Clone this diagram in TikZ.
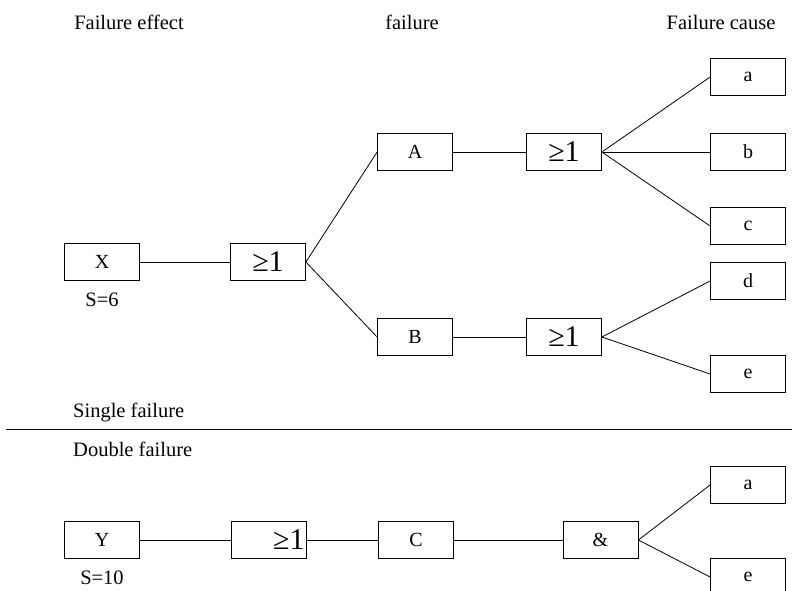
\documentclass[tikz,border=0pt]{standalone}
\usepackage{fontspec}
\setmainfont{Liberation Serif}
\usepackage{tikz}
\usetikzlibrary{positioning}
\tikzstyle{block}=[rectangle, draw=black, line width=0.8pt, minimum width=75pt, minimum height=37pt,
inner sep=0pt, font=\fontsize{20}{22}\selectfont]
\tikzstyle{gate}=[block, font=\fontsize{30}{32}\selectfont]
\tikzstyle{caption}=[anchor=base, inner sep=0pt, font=\fontsize{20.5}{23}\selectfont]
\tikzstyle{link}=[line width=0.8pt]

\begin{document}
\begin{tikzpicture}[x=1pt, y=-1pt]
    \clip (0,0) rectangle (792,590);
    \useasboundingbox (0,0) rectangle (792,590);
    % column headings
    \node (h1)[caption] at (129,29) {Failure effect};
    \node (h2)[caption] at (412,29) {failure};
    \node (h3)[caption] at (721,29) {Failure cause};

    % single failure
    \node (X)[block] at (102,262) {X};
    \node (sx)[caption] at (102,306) {S=6};
    \node (g1)[gate] at (268,262) {≥1};
    \node (A)[block] at (415,152) {A};
    \node (B)[block] at (415,337) {B};
    \node (gA)[gate] at (564,152) {≥1};
    \node (gB)[gate] at (564,337) {≥1};
    \node (a)[block] at (748,77) {a};
    \node (b)[block] at (748,152) {b};
    \node (c)[block] at (748,226) {c};
    \node (d)[block] at (748,281) {d};
    \node (e)[block] at (748,374) {e};

    \draw [link] (X) -- (g1);
    \draw [link] (g1.east) -- (A.west);
    \draw [link] (g1.east) -- (B.west);
    \draw [link] (A) -- (gA);
    \draw [link] (B) -- (gB);
    \draw [link] (gA.east) -- (a.west);
    \draw [link] (gA.east) -- (b.west);
    \draw [link] (gA.east) -- (c.west);
    \draw [link] (gB.east) -- (d.west);
    \draw [link] (gB.east) -- (e.west);

    % separator
    \node (single)[caption, anchor=base west] at (73,417) {Single failure};
    \coordinate (sepL) at (6,429);
    \coordinate (sepR) at (792,429);
    \draw [link] (sepL) -- (sepR);
    \node (double)[caption, anchor=base west] at (73,456) {Double failure};

    % double failure
    \node (Y)[block] at (102,540) {Y};
    \node (sy)[caption] at (102,584) {S=10};
    \node (g2)[gate, text width=72pt, align=right] at (268.5,540) {≥1};
    \node (C)[block] at (416,540) {C};
    \node (and)[block] at (600.5,540) {\&};
    \node (a2)[block] at (748,485) {a};
    \node (e2)[block] at (748,577) {e};

    \draw [link] (Y) -- (g2);
    \draw [link] (g2) -- (C);
    \draw [link] (C) -- (and);
    \draw [link] (and.east) -- (a2.west);
    \draw [link] (and.east) -- (e2.west);
\end{tikzpicture}
\end{document}
